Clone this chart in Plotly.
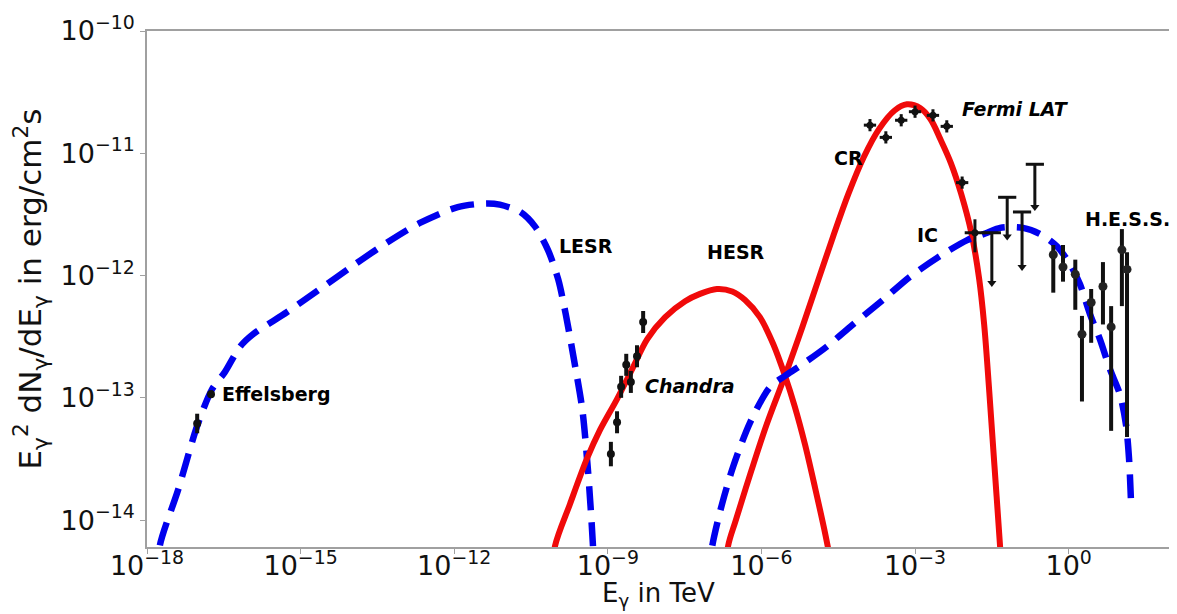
import numpy as np
import plotly.graph_objects as go

# ---------------- data (log10 values) ----------------
# model curves
lesr_logE = [-17.80, -17.75, -17.39, -17.02, -16.73, -16.48, -16.18, -15.93, -15.27, -14.62,
             -13.98, -13.31, -12.67, -11.93, -11.36, -11.11, -10.71, -10.42, -10.17, -9.97,
             -9.82, -9.66, -9.50, -9.39, -9.29, -9.27]
lesr_logF = [-14.50, -14.21, -13.75, -13.23, -12.93, -12.79, -12.58, -12.48, -12.30, -12.11,
             -11.92, -11.73, -11.57, -11.44, -11.41, -11.42, -11.48, -11.60, -11.79, -12.03,
             -12.32, -12.69, -13.09, -13.58, -14.21, -14.50]

hesr_logE = [-10.10, -10.03, -9.74, -9.41, -9.15, -8.82, -8.53, -8.23, -7.88, -7.49, -7.20,
             -6.87, -6.57, -6.32, -6.03, -5.77, -5.54, -5.35, -5.15, -4.95, -4.75, -4.62]
hesr_logF = [-14.50, -14.21, -13.87, -13.50, -13.26, -13.01, -12.77, -12.52, -12.34, -12.21, -12.15,
             -12.11, -12.13, -12.20, -12.34, -12.56, -12.82, -13.07, -13.38, -13.74, -14.12, -14.40]

cr_logE = [-6.72, -6.65, -6.50, -6.20, -5.90, -5.54, -5.20, -4.90, -4.60, -4.30, -4.00, -3.70,
           -3.40, -3.16, -2.90, -2.70, -2.50, -2.30, -2.10, -1.90, -1.75, -1.65, -1.55, -1.45,
           -1.34, -1.30]
cr_logF = [-14.50, -14.21, -14.00, -13.60, -13.22, -12.82, -12.42, -12.05, -11.68, -11.33, -11.03, -10.80,
           -10.65, -10.60, -10.63, -10.72, -10.89, -11.08, -11.33, -11.65, -12.02, -12.40, -12.95, -13.55,
           -14.21, -14.50]

ic_logE = [-7.05, -6.96, -6.77, -6.55, -6.22, -5.83, -5.54, -5.25, -4.72, -4.27, -3.63, -3.10,
           -2.51, -1.98, -1.59, -1.34, -0.89, -0.56, -0.23, 0.03, 0.22, 0.42, 0.61, 0.81,
           1.00, 1.12, 1.18, 1.22]
ic_logF = [-14.50, -14.21, -13.87, -13.56, -13.20, -12.91, -12.82, -12.74, -12.58, -12.42, -12.20, -12.01,
           -11.84, -11.71, -11.65, -11.61, -11.61, -11.66, -11.76, -11.91, -12.07, -12.32, -12.52, -12.77,
           -12.97, -13.22, -13.50, -13.87]

# measurements
effelsberg_logE = [-17.02, -16.75]
effelsberg_logF = [-13.21, -12.97]
effelsberg_err = [0.08, 0.03]

chandra_logE = [-8.94, -8.82, -8.74, -8.64, -8.55, -8.43, -8.31]
chandra_logF = [-13.46, -13.20, -12.91, -12.73, -12.87, -12.66, -12.38]
chandra_err = [0.10, 0.09, 0.09, 0.09, 0.09, 0.09, 0.09]

fermi_logE = [-3.88, -3.57, -3.27, -3.00, -2.65, -2.38, -2.08, -1.83]
fermi_logF = [-10.77, -10.87, -10.73, -10.66, -10.69, -10.78, -11.24, -11.65]
fermi_xerr = [0.12, 0.12, 0.12, 0.12, 0.12, 0.12, 0.12, 0.20]
fermi_yerr_hi = [0.05, 0.05, 0.05, 0.05, 0.05, 0.05, 0.05, 0.11]
fermi_yerr_lo = [0.05, 0.05, 0.05, 0.05, 0.05, 0.05, 0.05, 0.16]

ul_logE = [-1.50, -1.20, -0.91, -0.66]
ul_logF = [-11.65, -11.36, -11.48, -11.09]
ul_len = [0.41, 0.32, 0.45, 0.35]

hess_logE = [-0.30, -0.11, 0.13, 0.26, 0.44, 0.67, 0.83, 1.04, 1.14]
hess_logF = [-11.83, -11.93, -11.99, -12.48, -12.22, -12.09, -12.42, -11.79, -11.95]
hess_logF_hi = [-11.75, -11.75, -11.87, -12.33, -12.11, -11.89, -12.25, -11.62, -11.81]
hess_logF_lo = [-12.14, -12.05, -12.28, -13.03, -12.55, -12.40, -13.27, -12.25, -13.32]

x_tick_exps = [-18, -15, -12, -9, -6, -3, 0]
y_tick_exps = [-14, -13, -12, -11, -10]

x_title = "E<sub>γ</sub> in TeV"
y_title = "E<sub>γ</sub><sup>2</sup> dN<sub>γ</sub>/dE<sub>γ</sub> in erg/cm<sup>2</sup>s"

# ---------------- helpers ----------------
def lin(a):
    return 10 ** np.asarray(a, dtype=float)

def err_from_dex(logv, dhi, dlo):
    logv = np.asarray(logv, float)
    v = 10 ** logv
    return 10 ** (logv + np.asarray(dhi, float)) - v, v - 10 ** (logv - np.asarray(dlo, float))

def pow_label(e):
    return "10<sup>" + str(e).replace("-", "−") + "</sup>"

BLUE = "#0000ee"
RED = "#f00a0a"
BLACK = "#111111"
FONT = "DejaVu Sans"

fig = go.Figure()

dash = "24px,12px"
fig.add_trace(go.Scatter(x=lin(lesr_logE), y=lin(lesr_logF), mode="lines", line_shape="spline",
                         line=dict(color=BLUE, width=6.5, dash=dash, smoothing=0.8)))
fig.add_trace(go.Scatter(x=lin(hesr_logE), y=lin(hesr_logF), mode="lines", line_shape="spline",
                         line=dict(color=RED, width=6, smoothing=0.9)))
fig.add_trace(go.Scatter(x=lin(cr_logE), y=lin(cr_logF), mode="lines", line_shape="spline",
                         line=dict(color=RED, width=6, smoothing=1.0)))
fig.add_trace(go.Scatter(x=lin(ic_logE), y=lin(ic_logF), mode="lines", line_shape="spline",
                         line=dict(color=BLUE, width=6.5, dash=dash, smoothing=0.8)))

# Effelsberg
hi, lo = err_from_dex(effelsberg_logF, effelsberg_err, effelsberg_err)
fig.add_trace(go.Scatter(x=lin(effelsberg_logE), y=lin(effelsberg_logF), mode="markers",
                         marker=dict(color=BLACK, size=8),
                         error_y=dict(type="data", array=hi, arrayminus=lo, symmetric=False,
                                      color=BLACK, thickness=4, width=0)))
# Chandra
hi, lo = err_from_dex(chandra_logF, chandra_err, chandra_err)
fig.add_trace(go.Scatter(x=lin(chandra_logE), y=lin(chandra_logF), mode="markers",
                         marker=dict(color=BLACK, size=8),
                         error_y=dict(type="data", array=hi, arrayminus=lo, symmetric=False,
                                      color=BLACK, thickness=4, width=0)))
# Fermi LAT
hi, lo = err_from_dex(fermi_logF, fermi_yerr_hi, fermi_yerr_lo)
xhi, xlo = err_from_dex(fermi_logE, fermi_xerr, fermi_xerr)
fig.add_trace(go.Scatter(x=lin(fermi_logE), y=lin(fermi_logF), mode="markers",
                         marker=dict(color=BLACK, size=7),
                         error_y=dict(type="data", array=hi, arrayminus=lo, symmetric=False,
                                      color=BLACK, thickness=3, width=0),
                         error_x=dict(type="data", array=xhi, arrayminus=xlo, symmetric=False,
                                      color=BLACK, thickness=3, width=0)))
# Upper limits
zeros = np.zeros(len(ul_logF))
_, ul_lo = err_from_dex(ul_logF, zeros, ul_len)
fig.add_trace(go.Scatter(x=lin(ul_logE), y=lin(ul_logF), mode="markers",
                         marker=dict(symbol="line-ew", size=13, line=dict(color=BLACK, width=3)),
                         error_y=dict(type="data", array=zeros, arrayminus=ul_lo, symmetric=False,
                                      color=BLACK, thickness=3, width=0)))
fig.add_trace(go.Scatter(x=lin(ul_logE), y=lin(np.asarray(ul_logF) - np.asarray(ul_len)), mode="markers",
                         marker=dict(symbol="triangle-down", size=8, color=BLACK)))
# H.E.S.S.
hess_hi = lin(hess_logF_hi) - lin(hess_logF)
hess_lo = lin(hess_logF) - lin(hess_logF_lo)
fig.add_trace(go.Scatter(x=lin(hess_logE), y=lin(hess_logF), mode="markers",
                         marker=dict(color="#222222", size=9),
                         error_y=dict(type="data", array=hess_hi, arrayminus=hess_lo, symmetric=False,
                                      color=BLACK, thickness=4, width=0)))

# labels
labels = [
    ("Effelsberg", -16.57, -12.97, False),
    ("Chandra", -8.31, -12.90, True),
    ("LESR", -9.99, -11.76, False),
    ("HESR", -7.10, -11.81, False),
    ("CR", -4.62, -11.04, False),
    ("IC", -3.00, -11.67, False),
    ("Fermi LAT", -2.12, -10.64, True),
    ("H.E.S.S.", 0.28, -11.54, False),
]
for txt, lx, ly, it in labels:
    t = f"<b>{txt}</b>"
    if it:
        t = f"<i>{t}</i>"
    fig.add_annotation(x=lx, y=ly, xref="x", yref="y", text=t, showarrow=False,
                       xanchor="left", yanchor="middle",
                       font=dict(family=FONT, size=19, color="black"))

# x axis title, placed under the tick labels
fig.add_annotation(x=0.5, y=-0.092, xref="paper", yref="paper", text=x_title, showarrow=False,
                   xanchor="center", yanchor="middle",
                   font=dict(family=FONT, size=26, color="#111"))

axis_common = dict(showline=True, linecolor="#a0a0a0", linewidth=1.5, mirror=True,
                   showgrid=False, zeroline=False, ticks="outside", ticklen=5,
                   tickcolor="#a0a0a0", tickfont=dict(family=FONT, size=27, color="#111"))

fig.update_xaxes(type="log", range=[-18, 1.96],
                 tickvals=lin(x_tick_exps), ticktext=[pow_label(e) for e in x_tick_exps],
                 ticklabelstandoff=-11,
                 **axis_common)
fig.update_yaxes(type="log", range=[-14.22, -10],
                 tickvals=lin(y_tick_exps), ticktext=[pow_label(e) for e in y_tick_exps],
                 title=dict(text=y_title, font=dict(family=FONT, size=31, color="#111"), standoff=14),
                 **axis_common)

# the page body adds an 8px margin, so the figure is offset by 8px inside the 1177x614 window
fig.update_layout(width=1161, height=606, showlegend=False,
                  margin=dict(l=139, r=0, t=23, b=67, autoexpand=False),
                  plot_bgcolor="white", paper_bgcolor="white")

fig.write_html("out.html")
